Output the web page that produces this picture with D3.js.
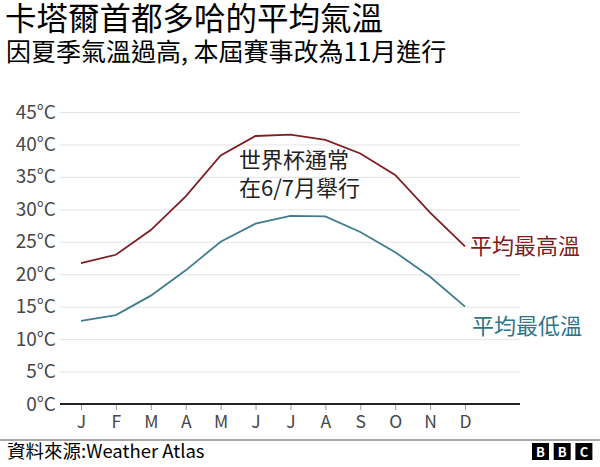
<!DOCTYPE html>
<html>
<head>
<meta charset="utf-8">
<script src="https://cdn.jsdelivr.net/npm/d3@7"></script>
<style>
  html, body { margin: 0; padding: 0; background: #fff; }
  svg { display: block; }
  text { font-family: "Noto Sans CJK TC", "Noto Sans", sans-serif; }
</style>
</head>
<body>
<svg id="chart" width="600" height="467"></svg>
<script>
const months = ["J","F","M","A","M","J","J","A","S","O","N","D"];
const highTemps = [21.7, 23.0, 26.8, 32.0, 38.3, 41.3, 41.5, 40.7, 38.6, 35.3, 29.5, 24.3];
const lowTemps  = [12.8, 13.7, 16.7, 20.6, 25.0, 27.8, 29.0, 28.9, 26.5, 23.4, 19.6, 15.0];
const yTicks = [0, 5, 10, 15, 20, 25, 30, 35, 40, 45];

const svg = d3.select("#chart");
const W = 600, H = 467;

const x = d3.scalePoint().domain(d3.range(months.length)).range([81, 465]);
const y = d3.scaleLinear().domain([0, 45]).range([404, 112]);
const plotLeft = 60, plotRight = 520;

// Title
svg.append("text").attr("x", 5).attr("y", 30)
  .attr("font-size", 31.5).attr("fill", "#000")
  .text("卡塔爾首都多哈的平均氣溫");
svg.append("text").attr("x", 6).attr("y", 61)
  .attr("font-size", 25).attr("fill", "#000")
  .text("因夏季氣溫過高, 本屆賽事改為11月進行");

// Gridlines + y labels
const yAxis = d3.axisLeft(y).tickValues(yTicks)
  .tickSize(-(plotRight - plotLeft)).tickFormat(d => d + "°C").tickPadding(4);
const gy = svg.append("g").attr("transform", `translate(${plotLeft},0)`).call(yAxis);
gy.select(".domain").remove();
gy.selectAll(".tick line").attr("stroke", "#e4e4e4").attr("stroke-width", 1);
gy.selectAll(".tick text")
  .attr("font-family", "'Noto Sans', sans-serif")
  .attr("font-size", 19).attr("fill", "#474747");

// X axis
const xAxis = d3.axisBottom(x).tickFormat(i => months[i]).tickSize(6).tickPadding(6).tickSizeOuter(0);
const gx = svg.append("g").attr("transform", `translate(0,${y(0)})`).call(xAxis);
gx.select(".domain").remove();
gx.selectAll(".tick line").attr("stroke", "#9a9a9a").attr("stroke-width", 1);
gx.selectAll(".tick text")
  .attr("font-family", "'Noto Sans', sans-serif")
  .attr("font-size", 17.5).attr("fill", "#474747");
svg.append("line").attr("x1", plotLeft).attr("x2", plotRight)
  .attr("y1", y(0)).attr("y2", y(0))
  .attr("stroke", "#222").attr("stroke-width", 2);

// Lines
const line = d3.line().x((d, i) => x(i)).y(d => y(d));
svg.append("path").datum(highTemps).attr("d", line)
  .attr("fill", "none").attr("stroke", "#7e1e25").attr("stroke-width", 1.8);
svg.append("path").datum(lowTemps).attr("d", line)
  .attr("fill", "none").attr("stroke", "#3f7d8e").attr("stroke-width", 1.8);

// Series labels
svg.append("text").attr("x", 470).attr("y", 254)
  .attr("font-size", 22).attr("fill", "#831c22").text("平均最高溫");
svg.append("text").attr("x", 472).attr("y", 334)
  .attr("font-size", 22).attr("fill", "#2f7589").text("平均最低溫");

// Annotation
svg.append("text").attr("x", 239).attr("y", 168)
  .attr("font-size", 22).attr("fill", "#222").text("世界杯通常");
svg.append("text").attr("x", 239).attr("y", 196)
  .attr("font-size", 22).attr("fill", "#222").text("在6/7月舉行");

// Footer
svg.append("line").attr("x1", 0).attr("x2", W).attr("y1", 440).attr("y2", 440)
  .attr("stroke", "#8a8a8a").attr("stroke-width", 1.5);
svg.append("text").attr("x", 7).attr("y", 458)
  .attr("font-size", 18.5).attr("fill", "#000").text("資料來源:Weather Atlas");

const logo = ["B", "B", "C"];
const lg = svg.append("g");
logo.forEach((ch, i) => {
  const lx = 532 + i * 21.7;
  lg.append("rect").attr("x", lx).attr("y", 443).attr("width", 17).attr("height", 17).attr("fill", "#000");
  lg.append("text").attr("x", lx + 8.5).attr("y", 456.5).attr("text-anchor", "middle")
    .attr("font-family", "'Noto Sans', sans-serif").attr("font-weight", "bold")
    .attr("font-size", 13).attr("fill", "#fff").text(ch);
});
</script>
</body>
</html>
